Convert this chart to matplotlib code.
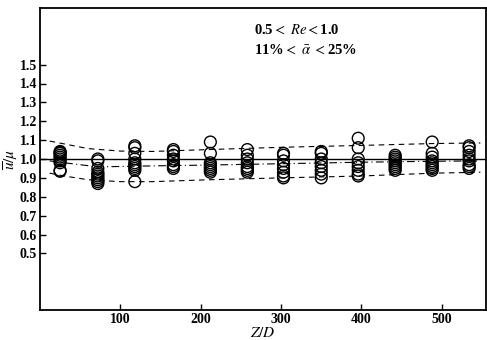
import numpy as np
import matplotlib
matplotlib.use('Agg')
import matplotlib.pyplot as plt

plt.rcParams['font.family'] = ['Liberation Serif', 'DejaVu Serif']
plt.rcParams['mathtext.fontset'] = 'stix'

# Z/D stations and measured u/mu values at each station
stations = [25, 72, 118, 166, 212, 258, 303, 350, 396, 442, 488, 534]
values = [
    [1.04, 1.035, 1.03, 1.02, 1.01, 1.0, 0.99, 0.98, 0.94, 0.935],
    [1.0, 0.99, 0.95, 0.93, 0.92, 0.91, 0.90, 0.89, 0.88, 0.87],
    [1.07, 1.06, 1.03, 1.0, 0.98, 0.97, 0.96, 0.95, 0.94, 0.88],
    [1.05, 1.04, 1.02, 1.0, 0.99, 0.97, 0.96, 0.95],
    [1.09, 1.03, 0.98, 0.97, 0.96, 0.95, 0.94, 0.93],
    [1.05, 1.02, 1.0, 0.98, 0.96, 0.95, 0.94, 0.93],
    [1.03, 1.02, 0.99, 0.97, 0.95, 0.93, 0.91, 0.90],
    [1.04, 1.03, 1.0, 0.98, 0.96, 0.94, 0.92, 0.90],
    [1.11, 1.06, 1.0, 0.98, 0.96, 0.94, 0.92, 0.91],
    [1.02, 1.01, 1.0, 0.99, 0.98, 0.97, 0.96, 0.95, 0.94],
    [1.09, 1.03, 1.01, 0.99, 0.98, 0.97, 0.96, 0.95, 0.94],
    [1.07, 1.06, 1.04, 1.02, 1.0, 0.99, 0.97, 0.96, 0.95],
]

# envelope and mean curves
upper_x = [12, 30, 60, 100, 140, 210, 300, 400, 490, 548]
upper_y = [1.095, 1.08, 1.055, 1.042, 1.04, 1.05, 1.062, 1.072, 1.082, 1.085]
lower_x = [12, 30, 60, 100, 140, 210, 300, 400, 490, 548]
lower_y = [0.925, 0.91, 0.89, 0.88, 0.88, 0.89, 0.90, 0.91, 0.925, 0.93]
mean_x = [12, 40, 72, 118, 210, 300, 400, 490, 548]
mean_y = [0.99, 0.975, 0.958, 0.962, 0.968, 0.975, 0.983, 0.988, 0.99]

fig = plt.figure(figsize=(4.87, 3.4), dpi=100)
ax = fig.add_axes([40 / 487, 30 / 340, 446 / 487, 302 / 340])

for s, v in zip(stations, values):
    ax.scatter([s] * len(v), v, s=72, facecolors='none', edgecolors='black', linewidths=1.0, zorder=3)

ax.axhline(1.0, color='black', lw=1.0)
ax.plot(upper_x, upper_y, color='black', lw=0.8, ls=(0, (5, 4)))
ax.plot(lower_x, lower_y, color='black', lw=0.8, ls=(0, (5, 4)))
ax.plot(mean_x, mean_y, color='black', lw=0.8, ls=(0, (7, 3, 1, 3)))

ax.set_xlim(0, 555)
ax.set_ylim(0.2, 1.8)
ax.set_xticks([100, 200, 300, 400, 500])
ax.set_yticks(np.round(np.arange(0.5, 1.51, 0.1), 1))
ax.tick_params(direction='in', length=4, width=1, labelsize=10, pad=2)
for lab in ax.get_xticklabels() + ax.get_yticklabels():
    lab.set_fontweight('bold')
for sp in ax.spines.values():
    sp.set_linewidth(1.3)

ax.set_xlabel(r'$Z/D$', fontsize=11, labelpad=0)
ax.set_ylabel(r'$\overline{u}/\mu$', fontsize=11)
ax.yaxis.set_label_coords(-0.045, 0.5)

ax.text(0.48, 0.915, r'0.5$<$ $Re$$<$1.0', transform=ax.transAxes, fontsize=10.5, fontweight='bold')
ax.text(0.48, 0.85, r'11%$<$ $\bar{\alpha}$ $<$25%', transform=ax.transAxes, fontsize=10.5, fontweight='bold')

fig.savefig('out.png', dpi=100)
